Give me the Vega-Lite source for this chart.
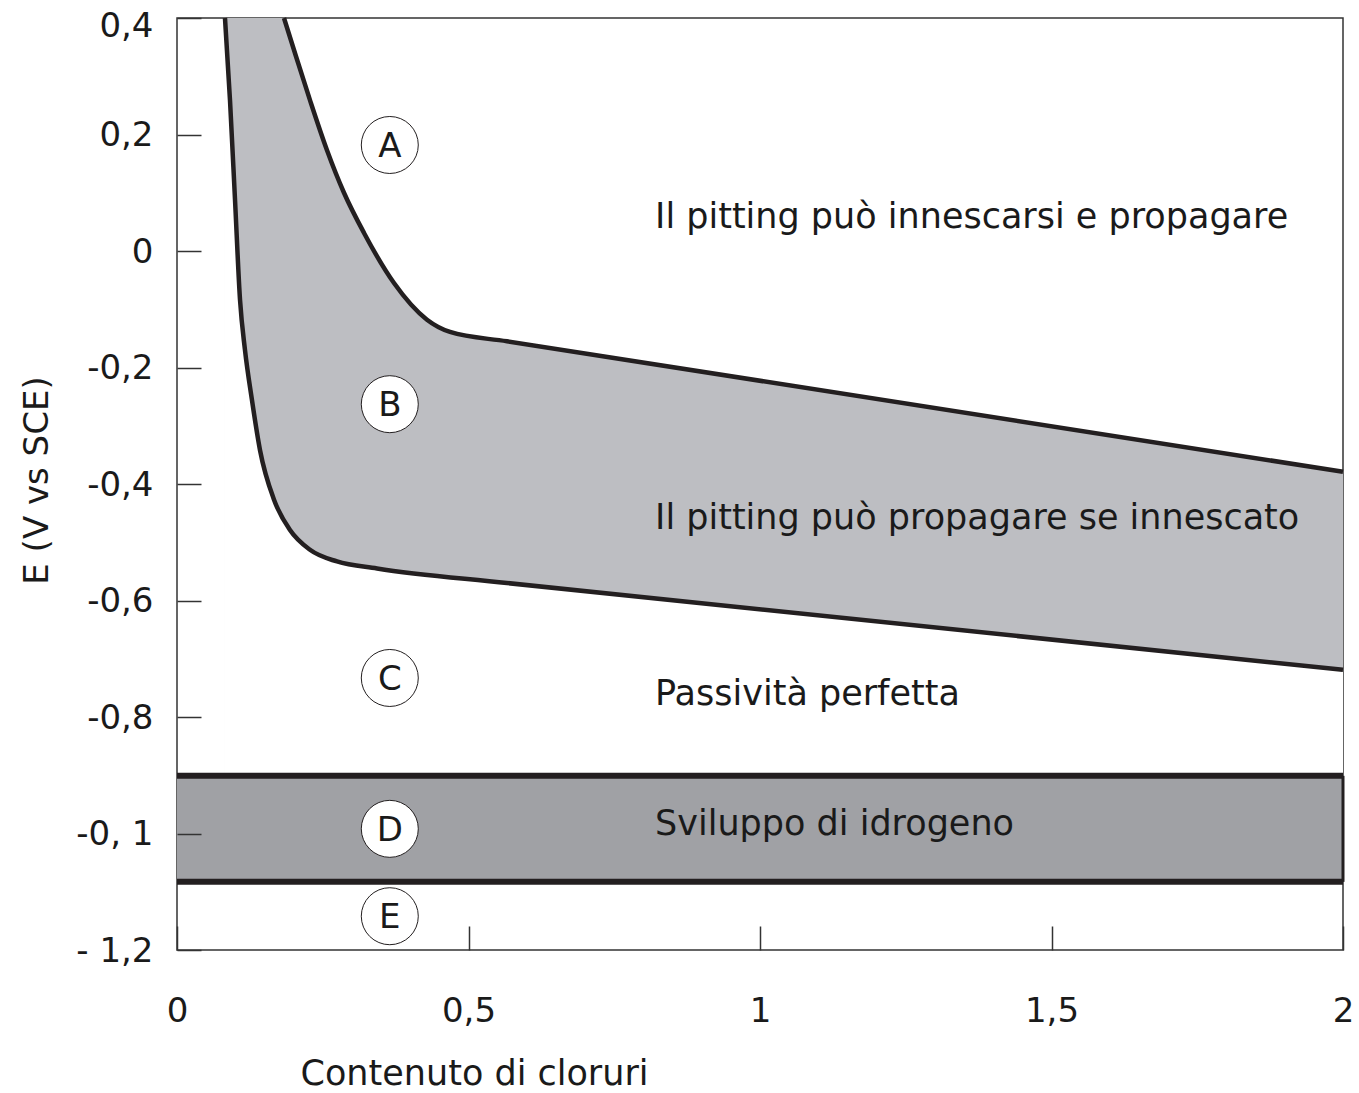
{
  "$schema": "https://vega.github.io/schema/vega-lite/v6.json",
  "width": 1166,
  "height": 932,
  "autosize": {"type": "none"},
  "padding": {"left": 177, "top": 18, "right": 16, "bottom": 143},
  "background": "white",
  "config": {
    "font": "DejaVu Sans",
    "view": {"stroke": "#333333", "strokeWidth": 1.5},
    "axis": {"grid": false, "domain": false, "labelFlush": false}
  },
  "datasets": {
    "upper": [
      {"x": 0.0823, "E": 0.4, "edge": true},
      {"x": 0.1835, "E": 0.4, "edge": false},
      {"x": 0.2007, "E": 0.345, "edge": false},
      {"x": 0.2281, "E": 0.259, "edge": false},
      {"x": 0.2573, "E": 0.173, "edge": false},
      {"x": 0.2864, "E": 0.100, "edge": false},
      {"x": 0.3208, "E": 0.031, "edge": false},
      {"x": 0.3722, "E": -0.055, "edge": false},
      {"x": 0.4288, "E": -0.118, "edge": false},
      {"x": 0.4683, "E": -0.139, "edge": false},
      {"x": 0.566, "E": -0.155, "edge": false},
      {"x": 2.0, "E": -0.379, "edge": false}
    ],
    "lower": [
      {"x": 0.0823, "E": 0.4},
      {"x": 0.0909, "E": 0.259},
      {"x": 0.0995, "E": 0.088},
      {"x": 0.1081, "E": -0.084},
      {"x": 0.1166, "E": -0.170},
      {"x": 0.1286, "E": -0.256},
      {"x": 0.1424, "E": -0.342},
      {"x": 0.1664, "E": -0.427},
      {"x": 0.1938, "E": -0.479},
      {"x": 0.2281, "E": -0.513},
      {"x": 0.2744, "E": -0.533},
      {"x": 0.3431, "E": -0.545},
      {"x": 0.566, "E": -0.570},
      {"x": 2.0, "E": -0.719}
    ],
    "band": [{"x1": 0, "x2": 2, "top": -0.901, "bottom": -1.083}],
    "bandlines": [{"E": -0.901}, {"E": -1.083}],
    "circles": [
      {"x": 0.365, "E": 0.182, "label": "A"},
      {"x": 0.365, "E": -0.263, "label": "B"},
      {"x": 0.365, "E": -0.733, "label": "C"},
      {"x": 0.365, "E": -0.992, "label": "D"},
      {"x": 0.365, "E": -1.142, "label": "E"}
    ],
    "notes": [
      {"x": 0.82, "E": 0.058, "text": "Il pitting può innescarsi e propagare"},
      {"x": 0.82, "E": -0.458, "text": "Il pitting può propagare se innescato"},
      {"x": 0.82, "E": -0.760, "text": "Passività perfetta"},
      {"x": 0.82, "E": -0.984, "text": "Sviluppo di idrogeno"}
    ]
  },
  "layer": [
    {
      "data": {"name": "upper"},
      "mark": {"type": "area", "color": "#bdbec2", "interpolate": "monotone"},
      "encoding": {
        "x": {
          "field": "x", "type": "quantitative",
          "scale": {"domain": [0, 2], "nice": false, "zero": false},
          "axis": {
            "values": [0, 0.5, 1, 1.5, 2],
            "labelExpr": "datum.value == 0.5 ? '0,5' : datum.value == 1.5 ? '1,5' : datum.value == 1 ? '1' : datum.value == 2 ? '2' : '0'",
            "tickSize": -24, "tickColor": "#333333", "tickWidth": 1.5,
            "labelFontSize": 34, "labelColor": "#1a1a1a", "labelPadding": 68,
            "title": "Contenuto di cloruri", "titleFontSize": 35, "titleFontWeight": "normal",
            "titleColor": "#1a1a1a", "titleAnchor": "start", "titleAlign": "left", "titleX": 123, "titleY": 134,
            "titleBaseline": "alphabetic", "zindex": 1
          }
        },
        "y": {
          "field": "E", "type": "quantitative",
          "scale": {"domain": [-1.2, 0.4], "nice": false, "zero": false},
          "axis": {
            "values": [0.4, 0.2, 0, -0.2, -0.4, -0.6, -0.8, -1, -1.2],
            "labelExpr": "datum.value == 0.4 ? '0,4' : datum.value == 0.2 ? '0,2' : datum.value == 0 ? '0' : datum.value == -0.2 ? '-0,2' : datum.value == -0.4 ? '-0,4' : datum.value == -0.6 ? '-0,6' : datum.value == -0.8 ? '-0,8' : datum.value == -1 ? '-0, 1' : '- 1,2'",
            "labelOffset": {"condition": {"test": "datum.value == 0.4", "value": 8}, "value": 1},
            "tickSize": -24, "tickColor": "#333333", "tickWidth": 1.5,
            "labelFontSize": 34, "labelColor": "#1a1a1a", "labelPadding": 48,
            "title": "E (V vs SCE)", "titleFontSize": 34, "titleFontWeight": "normal",
            "titleColor": "#1a1a1a", "titleX": -140, "titleY": 462, "titleAngle": -90,
            "titleBaseline": "middle", "titleAlign": "center", "zindex": 1
          }
        },
        "y2": {"datum": -0.901}
      }
    },
    {
      "data": {"name": "lower"},
      "mark": {"type": "area", "color": "white", "interpolate": "monotone"},
      "encoding": {
        "x": {"field": "x", "type": "quantitative"},
        "y": {"field": "E", "type": "quantitative"},
        "y2": {"datum": -0.901}
      }
    },
    {
      "data": {"name": "band"},
      "mark": {"type": "rect", "color": "#a0a1a5"},
      "encoding": {
        "x": {"field": "x1", "type": "quantitative"},
        "x2": {"field": "x2"},
        "y": {"field": "top", "type": "quantitative"},
        "y2": {"field": "bottom"}
      }
    },
    {
      "data": {"name": "bandlines"},
      "mark": {"type": "rule", "color": "#231f20", "strokeWidth": 6},
      "encoding": {
        "y": {"field": "E", "type": "quantitative"}
      }
    },
    {
      "data": {"name": "band"},
      "mark": {"type": "rule", "color": "#231f20", "strokeWidth": 3},
      "encoding": {
        "x": {"field": "x2", "type": "quantitative"},
        "y": {"field": "top", "type": "quantitative"},
        "y2": {"field": "bottom"}
      }
    },
    {
      "data": {"name": "upper"},
      "transform": [{"filter": "!datum.edge"}],
      "mark": {"type": "line", "color": "#231f20", "strokeWidth": 4.5, "interpolate": "monotone"},
      "encoding": {
        "x": {"field": "x", "type": "quantitative"},
        "y": {"field": "E", "type": "quantitative"}
      }
    },
    {
      "data": {"name": "lower"},
      "mark": {"type": "line", "color": "#231f20", "strokeWidth": 4.5, "interpolate": "monotone"},
      "encoding": {
        "x": {"field": "x", "type": "quantitative"},
        "y": {"field": "E", "type": "quantitative"}
      }
    },
    {
      "data": {"name": "circles"},
      "mark": {"type": "point", "shape": "circle", "filled": true, "fill": "white", "stroke": "#231f20", "strokeWidth": 1, "size": 3249, "opacity": 1},
      "encoding": {
        "x": {"field": "x", "type": "quantitative"},
        "y": {"field": "E", "type": "quantitative"}
      }
    },
    {
      "data": {"name": "circles"},
      "mark": {"type": "text", "fontSize": 34, "color": "#1a1a1a", "align": "center", "baseline": "middle", "dy": 2},
      "encoding": {
        "x": {"field": "x", "type": "quantitative"},
        "y": {"field": "E", "type": "quantitative"},
        "text": {"field": "label"}
      }
    },
    {
      "data": {"name": "notes"},
      "mark": {"type": "text", "fontSize": 35, "color": "#1a1a1a", "align": "left", "baseline": "middle"},
      "encoding": {
        "x": {"field": "x", "type": "quantitative"},
        "y": {"field": "E", "type": "quantitative"},
        "text": {"field": "text"}
      }
    }
  ]
}
